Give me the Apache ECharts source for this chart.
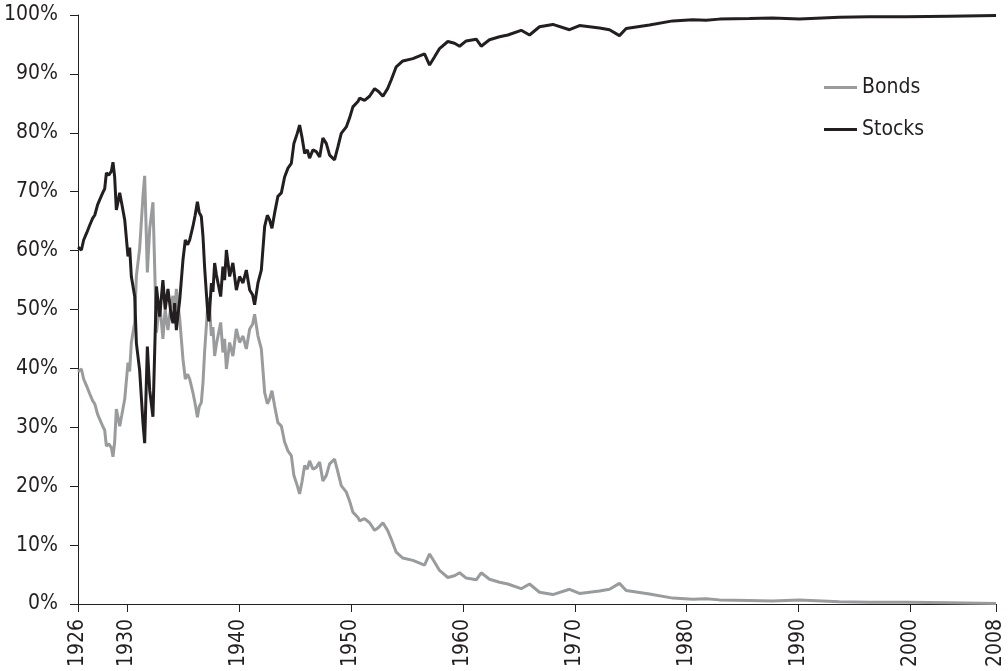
<!DOCTYPE html>
<html>
<head>
<meta charset="utf-8">
<title>Bonds vs Stocks</title>
<script src="https://cdn.jsdelivr.net/npm/echarts@6/dist/echarts.min.js"></script>
<style>
  html, body { margin: 0; padding: 0; background: #fff; }
  #chart { width: 1008px; height: 671px; }
</style>
</head>
<body>
<div id="chart"></div>
<script>
// dates as decimal years
var years = [
  1925.63, 1925.93, 1926.13, 1926.40, 1926.67, 1926.94, 1927.12, 1927.38, 1927.56, 1927.83,
  1928.01, 1928.16, 1928.37, 1928.61, 1928.75, 1928.90, 1929.05, 1929.17, 1929.35, 1929.53,
  1929.80, 1930.09, 1930.24, 1930.39, 1930.69, 1930.84, 1931.13, 1931.43, 1931.58, 1931.82,
  1932.03, 1932.32, 1932.63, 1932.92, 1933.21, 1933.41, 1933.66, 1933.96, 1934.11, 1934.26,
  1934.41, 1934.55, 1934.71, 1935.00, 1935.21, 1935.42, 1935.60, 1935.89, 1936.09, 1936.29,
  1936.45, 1936.64, 1936.79, 1936.94, 1937.09, 1937.21, 1937.32, 1937.54, 1937.68, 1937.83,
  1937.98, 1938.13, 1938.37, 1938.57, 1938.72, 1938.88, 1939.02, 1939.17, 1939.46, 1939.77,
  1940.06, 1940.36, 1940.66, 1940.96, 1941.22, 1941.40, 1941.70, 1942.00, 1942.30, 1942.54,
  1942.74, 1942.95, 1943.19, 1943.48, 1943.79, 1944.08, 1944.38, 1944.68, 1944.91, 1945.21,
  1945.42, 1945.63, 1945.87, 1946.11, 1946.31, 1946.61, 1946.91, 1947.21, 1947.50, 1947.80,
  1948.10, 1948.54, 1948.84, 1949.14, 1949.59, 1949.88, 1950.18, 1950.63, 1950.78, 1951.22,
  1951.67, 1952.12, 1952.47, 1952.86, 1953.28, 1953.61, 1954.05, 1954.64, 1955.54, 1956.58,
  1957.03, 1957.48, 1957.92, 1958.66, 1959.26, 1959.71, 1960.30, 1961.20, 1961.64, 1962.38,
  1963.28, 1964.02, 1965.21, 1965.96, 1966.85, 1968.04, 1969.53, 1970.42, 1972.21, 1973.10,
  1973.99, 1974.59, 1976.67, 1978.75, 1980.54, 1981.73, 1982.92, 1985.60, 1987.65, 1990.06,
  1993.63, 1996.31, 1999.59, 2003.45, 2007.63
];

var stocks = [
  60.6, 60.1, 61.8, 63.0, 64.3, 65.5, 66.0, 67.8, 68.6, 69.8,
  70.5, 73.2, 72.8, 73.5, 75.0, 72.5, 66.9, 68.0, 69.8, 68.0,
  65.2, 59.0, 60.5, 55.6, 52.2, 44.3, 39.7, 30.7, 27.3, 43.7,
  36.3, 31.8, 53.9, 48.8, 55.0, 50.0, 53.5, 48.8, 47.7, 51.1,
  46.5, 49.0, 51.6, 58.4, 61.8, 61.0, 61.8, 64.1, 66.0, 68.3,
  66.5, 65.8, 62.4, 57.0, 52.8, 49.5, 48.0, 54.5, 53.0, 57.9,
  56.0, 54.5, 52.2, 57.3, 55.0, 60.1, 58.0, 55.6, 57.9, 53.3,
  55.6, 54.5, 56.7, 53.3, 52.5, 50.8, 54.5, 56.7, 64.1, 66.0,
  65.2, 63.8, 66.4, 69.2, 69.8, 72.5, 74.0, 74.8, 78.2, 79.9,
  81.3, 79.3, 76.5, 77.1, 75.7, 77.1, 76.8, 75.9, 79.1, 78.2,
  76.2, 75.4, 77.6, 79.9, 81.0, 82.5, 84.4, 85.3, 85.9, 85.5,
  86.2, 87.5, 87.0, 86.2, 87.5, 89.0, 91.2, 92.2, 92.6, 93.4,
  91.5, 92.9, 94.3, 95.5, 95.2, 94.7, 95.6, 95.9, 94.7, 95.8,
  96.3, 96.6, 97.4, 96.6, 98.0, 98.4, 97.5, 98.2, 97.8, 97.5,
  96.5, 97.7, 98.3, 99.0, 99.2, 99.1, 99.3, 99.4, 99.5, 99.3,
  99.6, 99.7, 99.7, 99.8, 99.9
];

var bonds = [
  39.4, 39.9, 38.2, 37.0, 35.7, 34.5, 34.0, 32.2, 31.4, 30.2,
  29.5, 26.8, 27.2, 26.5, 25.0, 27.5, 33.1, 32.0, 30.2, 32.0,
  34.8, 41.0, 39.5, 44.4, 47.8, 55.7, 60.3, 69.3, 72.7, 56.3,
  63.7, 68.2, 46.1, 51.2, 45.0, 50.0, 46.5, 51.2, 52.3, 48.9,
  53.5, 51.0, 48.4, 41.6, 38.2, 39.0, 38.2, 35.9, 34.0, 31.7,
  33.5, 34.2, 37.6, 43.0, 47.2, 50.5, 52.0, 45.5, 47.0, 42.1,
  44.0, 45.5, 47.8, 42.7, 45.0, 39.9, 42.0, 44.4, 42.1, 46.7,
  44.4, 45.5, 43.3, 46.7, 47.5, 49.2, 45.5, 43.3, 35.9, 34.0,
  34.8, 36.2, 33.6, 30.8, 30.2, 27.5, 26.0, 25.2, 21.8, 20.1,
  18.7, 20.7, 23.5, 22.9, 24.3, 22.9, 23.2, 24.1, 20.9, 21.8,
  23.8, 24.6, 22.4, 20.1, 19.0, 17.5, 15.6, 14.7, 14.1, 14.5,
  13.8, 12.5, 13.0, 13.8, 12.5, 11.0, 8.8, 7.8, 7.4, 6.6,
  8.5, 7.1, 5.7, 4.5, 4.8, 5.3, 4.4, 4.1, 5.3, 4.2,
  3.7, 3.4, 2.6, 3.4, 2.0, 1.6, 2.5, 1.8, 2.2, 2.5,
  3.5, 2.3, 1.7, 1.0, 0.8, 0.9, 0.7, 0.6, 0.5, 0.7,
  0.4, 0.3, 0.3, 0.2, 0.1
];

// x axis ticks: the first and last sit at the ends of the data range
var xTickValues = [1925.625, 1930, 1940, 1950, 1960, 1970, 1980, 1990, 2000, 2007.625];
var xTickLabels = ['1926', '1930', '1940', '1950', '1960', '1970', '1980', '1990', '2000', '2008'];

var FONT = "'Liberation Sans Narrow', 'DejaVu Sans Condensed', 'Roboto', sans-serif";
var INK = '#231f20';

function pairs(ys) {
  var out = [];
  for (var i = 0; i < years.length; i++) out.push([years[i], ys[i]]);
  return out;
}

var myChart = echarts.init(document.getElementById('chart'));
var option = {
  animation: false,
  backgroundColor: '#fff',
  grid: {
    left: 78,
    right: 12,
    top: 15,
    bottom: 67,
    outerBoundsMode: 'none'
  },
  legend: {
    orient: 'vertical',
    left: 824,
    top: 77,
    padding: 0,
    icon: 'rect',
    itemWidth: 33,
    itemHeight: 3,
    itemGap: 21,
    textStyle: {
      color: INK,
      fontFamily: FONT,
      fontSize: 21
    },
    data: ['Bonds', 'Stocks']
  },
  xAxis: {
    type: 'value',
    min: 1925.625,
    max: 2007.625,
    axisLine: { lineStyle: { color: INK, width: 1 } },
    axisTick: {
      customValues: xTickValues,
      length: 8,
      lineStyle: { color: INK }
    },
    axisLabel: {
      customValues: xTickValues,
      rotate: 90,
      margin: 15,
      color: INK,
      fontFamily: FONT,
      fontSize: 21,
      formatter: function (v) {
        var i = xTickValues.indexOf(v);
        return i >= 0 ? xTickLabels[i] : '';
      }
    },
    splitLine: { show: false }
  },
  yAxis: {
    type: 'value',
    min: 0,
    max: 100,
    interval: 10,
    axisLine: { show: true, lineStyle: { color: INK, width: 1 } },
    axisTick: { show: true, length: 8, lineStyle: { color: INK } },
    axisLabel: {
      margin: 20,
      color: INK,
      fontFamily: FONT,
      fontSize: 21,
      formatter: '{value}%'
    },
    splitLine: { show: false }
  },
  series: [
    {
      name: 'Bonds',
      type: 'line',
      symbol: 'none',
      color: '#9a9b9d',
      lineStyle: { color: '#9a9b9d', width: 3 },
      data: pairs(bonds)
    },
    {
      name: 'Stocks',
      type: 'line',
      symbol: 'none',
      color: INK,
      lineStyle: { color: INK, width: 3 },
      data: pairs(stocks)
    }
  ]
};
myChart.setOption(option);
</script>
</body>
</html>
